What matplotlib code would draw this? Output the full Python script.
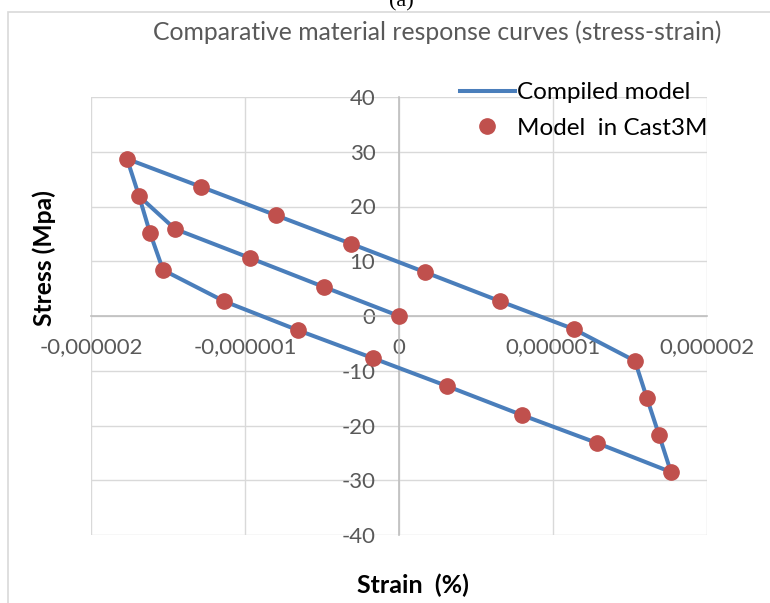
import matplotlib
matplotlib.use("Agg")
import matplotlib.pyplot as plt
from matplotlib.patches import Rectangle
import numpy as np

# compiled model (line), in units of 1e-6 strain / MPa
model_strain = [0, -0.487, -0.968, -1.455, -1.688, -1.766, -1.286, -0.799, -0.312,
                0.169, 0.656, 1.136, 1.532, 1.610, 1.688, 1.766, 1.286, 0.799, 0.312,
                -0.169, -0.656, -1.136, -1.532, -1.617, -1.688]
model_stress = [0, 5.3, 10.6, 15.9, 21.9, 28.7, 23.6, 18.4, 13.2,
                8.0, 2.7, -2.4, -8.2, -15.0, -21.7, -28.5, -23.2, -18.1, -12.8,
                -7.7, -2.6, 2.7, 8.4, 15.2, 21.9]

# Cast3M points
cast_strain = [0, -0.487, -0.968, -1.455, -1.688, -1.766, -1.286, -0.799, -0.312,
               0.169, 0.656, 1.136, 1.532, 1.610, 1.688, 1.766, 1.286, 0.799, 0.312,
               -0.169, -0.656, -1.136, -1.532, -1.617]
cast_stress = [0, 5.3, 10.6, 15.9, 21.9, 28.7, 23.6, 18.4, 13.2,
               8.0, 2.7, -2.4, -8.2, -15.0, -21.7, -28.5, -23.2, -18.1, -12.8,
               -7.7, -2.6, 2.7, 8.4, 15.2]

x_ticks = [-2e-6, -1e-6, 0, 1e-6, 2e-6]
x_labels = ["-0,000002", "-0,000001", "0", "0,000001", "0,000002"]
y_ticks = [-40, -30, -20, -10, 0, 10, 20, 30, 40]

plt.rcParams["font.family"] = ["Lato", "DejaVu Sans"]
plt.rcParams["axes.unicode_minus"] = False

W, H = 770, 603
fig = plt.figure(figsize=(W / 100, H / 100), dpi=100)
ax = fig.add_axes([91 / W, 1 - 535 / H, (707 - 91) / W, (535 - 97) / H])

# outer chart frame
fig.patches.append(Rectangle((8 / W, -0.1), 1.2, 1 - 12 / H + 0.1, transform=fig.transFigure,
                             fill=False, edgecolor="#d9d9d9", linewidth=1.2))

xs = np.array(model_strain) * 1e-6
xc = np.array(cast_strain) * 1e-6
ax.plot(xs, model_stress, color="#4a7ebb", lw=2.9, label="Compiled model", zorder=3)
ax.plot(xc, cast_stress, ls="none", marker="o", ms=11, color="#c0504d",
        label="Model  in Cast3M", zorder=4)

ax.set_xlim(-2e-6, 2e-6)
ax.set_ylim(-40, 40)
ax.set_xticks(x_ticks)
ax.set_xticklabels(x_labels)
ax.set_yticks(y_ticks)
ax.grid(True, color="#d9d9d9", lw=1.0, zorder=0)
ax.set_axisbelow(True)

for s in ["top", "right"]:
    ax.spines[s].set_visible(False)
ax.spines["left"].set_position("zero")
ax.spines["bottom"].set_position("zero")
for s in ["left", "bottom"]:
    ax.spines[s].set_color("#bfbfbf")
    ax.spines[s].set_linewidth(1.2)
    ax.spines[s].set_zorder(1)
ax.tick_params(axis="both", length=0, labelsize=16, labelcolor="#595959")
ax.tick_params(axis="y", pad=17)
ax.tick_params(axis="x", pad=15.5)

fig.text(437 / W, 1 - 32 / H, "Comparative material response curves (stress-strain)",
         ha="center", va="center", fontsize=17.8, color="#595959")
fig.text(401 / W, 1 - 6 / H, "(a)", ha="center", va="baseline", fontsize=16,
         family="Liberation Serif")
fig.text(413 / W, 1 - 585 / H, "Strain  (%)", ha="center", va="center",
         fontsize=18, fontweight="bold")
fig.text(44 / W, 1 - 258 / H, "Stress (Mpa)", ha="center", va="center",
         fontsize=17.7, fontweight="bold", rotation=90)

fig.legend(loc="upper left", bbox_to_anchor=(460 / W, 1 - 82 / H), frameon=False,
           fontsize=17.5, handlelength=2.25, handletextpad=0.1, labelspacing=0.6,
           borderpad=0, borderaxespad=0)

fig.savefig("out.png", dpi=100)
